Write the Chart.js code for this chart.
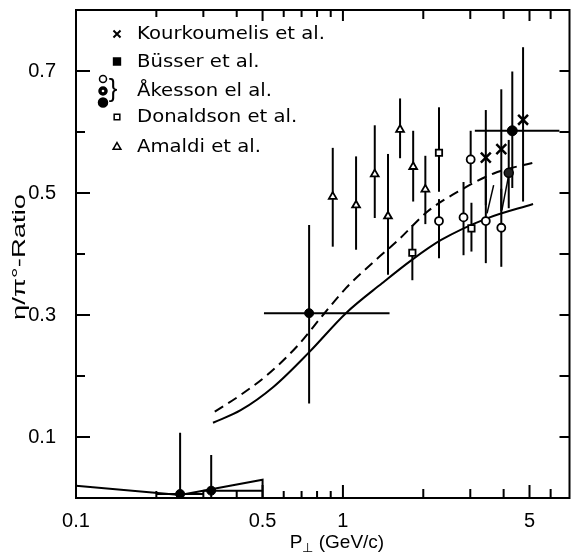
<!DOCTYPE html>
<html><head><meta charset="utf-8">
<script src="https://cdn.jsdelivr.net/npm/chart.js@4.4.0/dist/chart.umd.min.js"></script>
<style>html,body{margin:0;padding:0;background:#fff;}#wrap{width:579px;height:557px;}</style>
</head><body><div id="wrap"><canvas id="c" width="579" height="557"></canvas></div>
<script>
// ---------- data ----------
const xTickLabels = [0.1, 0.5, 1, 5];
const yTickLabels = [0.1, 0.3, 0.5, 0.7];
const xMinorTicks = [0.2, 0.3, 0.4, 0.6, 0.7, 0.8, 0.9, 2, 3, 4, 6];
const yMinorTicks = [0.2, 0.4, 0.6];
const legendLabels = ['Kourkoumelis et al.', 'Büsser et al.', 'Åkesson el al.', 'Donaldson et al.', 'Amaldi et al.'];

// Kourkoumelis et al. (x)
const kourX  = [3.43, 3.92, 4.73];
const kourY  = [0.558, 0.572, 0.620];
const kourLo = [0.48, 0.47, 0.486];
const kourHi = [0.636, 0.670, 0.739];

// Büsser et al.
const busX   = [4.31];
const busY   = [0.602];
const busXLo = [3.12];
const busXHi = [6.47];
const busYLo = [0.508];
const busYHi = [0.699];

// Åkesson et al. (open circles)
const akoX  = [3.01, 2.29, 2.83, 3.43, 3.92];
const akoY  = [0.555, 0.454, 0.460, 0.454, 0.443];
const akoLo = [0.516, 0.393, 0.398, 0.385, 0.379];
const akoHi = [0.602, 0.490, 0.518, 0.523, 0.507];

// Åkesson et al. (dotted circle)
const akhX  = [4.18];
const akhY  = [0.533];
const akhLo = [0.475];
const akhHi = [0.587];

// Åkesson et al. (filled circles)
const akfX   = [0.2455, 0.321, 0.747];
const akfY   = [0.0066, 0.012, 0.303];
const akfYLo = [0.0, 0.0, 0.155];
const akfYHi = [0.107, 0.0705, 0.4475];
const akfXLo = [0.2, 0.3, 0.506];
const akfXHi = [0.3, 0.5, 1.495];

// Donaldson et al. (open squares)
const donX  = [2.29, 1.82, 3.03];
const donY  = [0.566, 0.402, 0.442];
const donLo = [0.502, 0.357, 0.404];
const donHi = [0.6405, 0.4475, 0.484];

// Amaldi et al. (open triangles)
const amaX  = [0.916, 1.12, 1.316, 1.475, 1.637, 1.833, 2.036];
const amaY  = [0.494, 0.480, 0.531, 0.462, 0.604, 0.543, 0.506];
const amaLo = [0.412, 0.407, 0.459, 0.366, 0.557, 0.486, 0.449];
const amaHi = [0.574, 0.560, 0.611, 0.564, 0.655, 0.602, 0.561];

// theory curves
const dashX = [0.331, 0.414, 0.520, 0.671, 0.842, 1.026, 1.287, 1.613, 2.08, 2.77, 3.67, 5.30];
const dashY = [0.1415, 0.169, 0.2016, 0.248, 0.300, 0.344, 0.385, 0.423, 0.470, 0.505, 0.532, 0.551];
const solidX = [0.326, 0.414, 0.550, 0.751, 1.026, 1.401, 1.808, 2.333, 3.467, 5.155];
const solidY = [0.1234, 0.144, 0.1825, 0.240, 0.303, 0.352, 0.390, 0.423, 0.4585, 0.482];
const lowX = [0.1, 0.2455, 0.5, 0.5];
const lowY = [0.020, 0.005, 0.030, 0.0];
// slanted marks near the high-pT points
const slant1X = [3.67, 3.467];
const slant1Y = [0.513, 0.4667];
const slant2X = [4.169, 3.94];
const slant2Y = [0.527, 0.472];

// ---------- helpers ----------
const pts = (xs, ys) => xs.map((x, i) => ({x, y: ys[i]}));
const FONT = 'Liberation Sans, Arial, sans-serif';
const WFONT = 'DejaVu Sans, Verdana, sans-serif';

const errSets = [
  {x: kourX, y: kourY, yLo: kourLo, yHi: kourHi},
  {x: busX, y: busY, yLo: busYLo, yHi: busYHi, xLo: busXLo, xHi: busXHi},
  {x: akoX, y: akoY, yLo: akoLo, yHi: akoHi},
  {x: akhX, y: akhY, yLo: akhLo, yHi: akhHi},
  {x: akfX, y: akfY, yLo: akfYLo, yHi: akfYHi, xLo: akfXLo, xHi: akfXHi},
  {x: donX, y: donY, yLo: donLo, yHi: donHi},
  {x: amaX, y: amaY, yLo: amaLo, yHi: amaHi}
];

const errorBars = {
  id: 'errorBars',
  beforeDatasetsDraw(chart) {
    const {ctx, scales: {x: sx, y: sy}} = chart;
    ctx.save();
    ctx.strokeStyle = '#000';
    ctx.lineWidth = 2;
    ctx.lineCap = 'butt';
    errSets.forEach(s => {
      s.x.forEach((xv, i) => {
        const px = sx.getPixelForValue(xv);
        const py = sy.getPixelForValue(s.y[i]);
        ctx.beginPath();
        ctx.moveTo(px, sy.getPixelForValue(s.yLo[i]));
        ctx.lineTo(px, sy.getPixelForValue(s.yHi[i]));
        if (s.xLo) {
          ctx.moveTo(sx.getPixelForValue(s.xLo[i]), py);
          ctx.lineTo(sx.getPixelForValue(s.xHi[i]), py);
        }
        ctx.stroke();
      });
    });
    ctx.restore();
  }
};

function stretchedText(ctx, text, x, y, sx) {
  ctx.save();
  ctx.translate(x, y);
  ctx.scale(sx, 1);
  ctx.fillText(text, 0, 0);
  ctx.restore();
}

const frameAndText = {
  id: 'frameAndText',
  afterDraw(chart) {
    const {ctx, chartArea: a, scales: {x: sx, y: sy}} = chart;
    ctx.save();
    ctx.strokeStyle = '#000';
    ctx.fillStyle = '#000';
    ctx.lineWidth = 2;
    ctx.strokeRect(a.left, a.top, a.right - a.left, a.bottom - a.top);
    ctx.beginPath();
    yTickLabels.forEach(v => {
      const p = sy.getPixelForValue(v);
      ctx.moveTo(a.left, p); ctx.lineTo(a.left + 14, p);
      ctx.moveTo(a.right, p); ctx.lineTo(a.right - 10, p);
    });
    yMinorTicks.forEach(v => {
      const p = sy.getPixelForValue(v);
      ctx.moveTo(a.left, p); ctx.lineTo(a.left + 9, p);
      ctx.moveTo(a.right, p); ctx.lineTo(a.right - 10, p);
    });
    xTickLabels.forEach(v => {
      if (v === 0.1) return;
      const p = sx.getPixelForValue(v);
      ctx.moveTo(p, a.bottom); ctx.lineTo(p, a.bottom - 13);
      ctx.moveTo(p, a.top); ctx.lineTo(p, a.top + 11);
    });
    xMinorTicks.forEach(v => {
      const p = sx.getPixelForValue(v);
      const len = v >= 2 ? 9 : 7;
      ctx.moveTo(p, a.bottom); ctx.lineTo(p, a.bottom - len);
      ctx.moveTo(p, a.top); ctx.lineTo(p, a.top + len);
    });
    ctx.stroke();

    // x axis title
    ctx.textBaseline = 'alphabetic';
    ctx.textAlign = 'left';
    ctx.font = '19px ' + FONT;
    const pW = ctx.measureText('P').width;
    ctx.font = '13px ' + FONT;
    const perpW = ctx.measureText('⊥').width;
    ctx.font = '19px ' + FONT;
    const restW = ctx.measureText(' (GeV/c)').width;
    let tx = 337 - (pW + perpW + restW) / 2;
    const ty = 548;
    ctx.fillText('P', tx, ty); tx += pW;
    ctx.font = '13px ' + FONT;
    ctx.fillText('⊥', tx, ty + 4); tx += perpW;
    ctx.font = '19px ' + FONT;
    ctx.fillText(' (GeV/c)', tx, ty);

    // y axis title
    ctx.save();
    ctx.translate(25, 257);
    ctx.rotate(-Math.PI / 2);
    ctx.font = '19px ' + FONT;
    ctx.textAlign = 'left';
    const yt = 'η/π°-Ratio';
    const ytW = ctx.measureText(yt).width;
    const ytS = 126 / ytW;
    stretchedText(ctx, yt, -63, 0, ytS);
    ctx.restore();

    // legend
    const rows = [34, 61.5, 91, 117, 147];
    const symX = 117, textX = 137;
    const H = Chart.helpers;
    ctx.lineWidth = 2;
    ctx.strokeStyle = '#000';
    ctx.fillStyle = '#000';
    H.drawPoint(ctx, {pointStyle: 'crossRot', radius: 5, borderWidth: 2}, symX, rows[0]);
    H.drawPoint(ctx, {pointStyle: 'rect', radius: 4.5, borderWidth: 1}, symX, rows[1]);
    ctx.fillStyle = '#fff'; ctx.lineWidth = 1.5;
    H.drawPoint(ctx, {pointStyle: 'circle', radius: 3.5, borderWidth: 1.5}, 103, 79);
    ctx.fillStyle = '#000';
    H.drawPoint(ctx, {pointStyle: 'circle', radius: 4, borderWidth: 1.5}, 103, 91);
    ctx.fillStyle = '#fff';
    ctx.beginPath(); ctx.arc(103, 91, 1.3, 0, Math.PI * 2); ctx.fill();
    ctx.fillStyle = '#000';
    H.drawPoint(ctx, {pointStyle: 'circle', radius: 4.5, borderWidth: 1}, 103, 102.5);
    ctx.fillStyle = '#fff';
    H.drawPoint(ctx, {pointStyle: 'rect', radius: 4, borderWidth: 1.5}, symX, rows[3]);
    H.drawPoint(ctx, {pointStyle: 'triangle', radius: 4.5, borderWidth: 1.5}, symX, rows[4]);
    ctx.fillStyle = '#000';
    ctx.font = '26px ' + FONT;
    ctx.textAlign = 'center';
    ctx.textBaseline = 'middle';
    ctx.fillText('}', 113, 90);

    ctx.textAlign = 'left';
    ctx.textBaseline = 'middle';
    ctx.font = '17px ' + WFONT;
    const lgS = 188 / ctx.measureText(legendLabels[0]).width;
    legendLabels.forEach((t, i) => {
      stretchedText(ctx, t, textX, rows[i] + 1, lgS);
    });
    ctx.restore();
  }
};

const black = '#000';
const datasets = [
  {data: pts(dashX, dashY), showLine: true, borderColor: black, borderWidth: 2, borderDash: [10, 6], pointRadius: 0, cubicInterpolationMode: 'monotone', order: 5},
  {data: pts(solidX, solidY), showLine: true, borderColor: black, borderWidth: 2, pointRadius: 0, cubicInterpolationMode: 'monotone', order: 5},
  {data: pts(lowX, lowY), showLine: true, borderColor: black, borderWidth: 2, pointRadius: 0, order: 5},
  {data: pts(slant1X, slant1Y), showLine: true, borderColor: black, borderWidth: 1.5, pointRadius: 0, order: 5},
  {data: pts(slant2X, slant2Y), showLine: true, borderColor: black, borderWidth: 1.5, pointRadius: 0, order: 5},
  {data: pts(kourX, kourY), pointStyle: 'crossRot', pointRadius: 7, borderWidth: 2.5, borderColor: black, backgroundColor: black, order: 1},
  {data: pts(busX, busY), pointStyle: 'circle', pointRadius: 5, borderWidth: 1, borderColor: black, backgroundColor: black, order: 1},
  {data: pts(akoX, akoY), pointStyle: 'circle', pointRadius: 4, borderWidth: 1.8, borderColor: black, backgroundColor: '#fff', order: 1},
  {data: pts(akhX, akhY), pointStyle: 'circle', pointRadius: 4.5, borderWidth: 1.5, borderColor: black, backgroundColor: '#222', order: 1},
  {data: pts(akfX, akfY), pointStyle: 'circle', pointRadius: 4.5, borderWidth: 1, borderColor: black, backgroundColor: black, order: 1},
  {data: pts(donX, donY), pointStyle: 'rect', pointRadius: 4.5, borderWidth: 1.8, borderColor: black, backgroundColor: '#fff', order: 1},
  {data: pts(amaX, amaY), pointStyle: 'triangle', pointRadius: 4.5, borderWidth: 1.8, borderColor: black, backgroundColor: '#fff', order: 1}
];

new Chart(document.getElementById('c'), {
  type: 'scatter',
  data: {datasets},
  options: {
    responsive: false,
    animation: false,
    devicePixelRatio: 1,
    layout: {padding: {left: 0, right: 2, top: 10, bottom: 0}},
    plugins: {legend: {display: false}, tooltip: {enabled: false}},
    scales: {
      x: {
        type: 'logarithmic', min: 0.1, max: 7.06,
        afterBuildTicks: s => { s.ticks = xTickLabels.map(v => ({value: v})); },
        afterFit: s => { s.height = 59; s.paddingLeft = 0; s.paddingRight = 0; },
        ticks: {autoSkip: false, maxRotation: 0, padding: 3, color: '#000',
          font: {family: FONT, size: 20}, callback: v => String(v)},
        grid: {display: false}, border: {display: false}
      },
      y: {
        min: 0, max: 0.8,
        afterBuildTicks: s => { s.ticks = yTickLabels.map(v => ({value: v})); },
        afterFit: s => { s.width = 76; s.paddingTop = 0; s.paddingBottom = 0; },
        ticks: {padding: 12, color: '#000', font: {family: FONT, size: 20}, callback: v => Number(v).toFixed(1)},
        grid: {display: false}, border: {display: false}
      }
    }
  },
  plugins: [errorBars, frameAndText]
});
</script>
</body></html>
